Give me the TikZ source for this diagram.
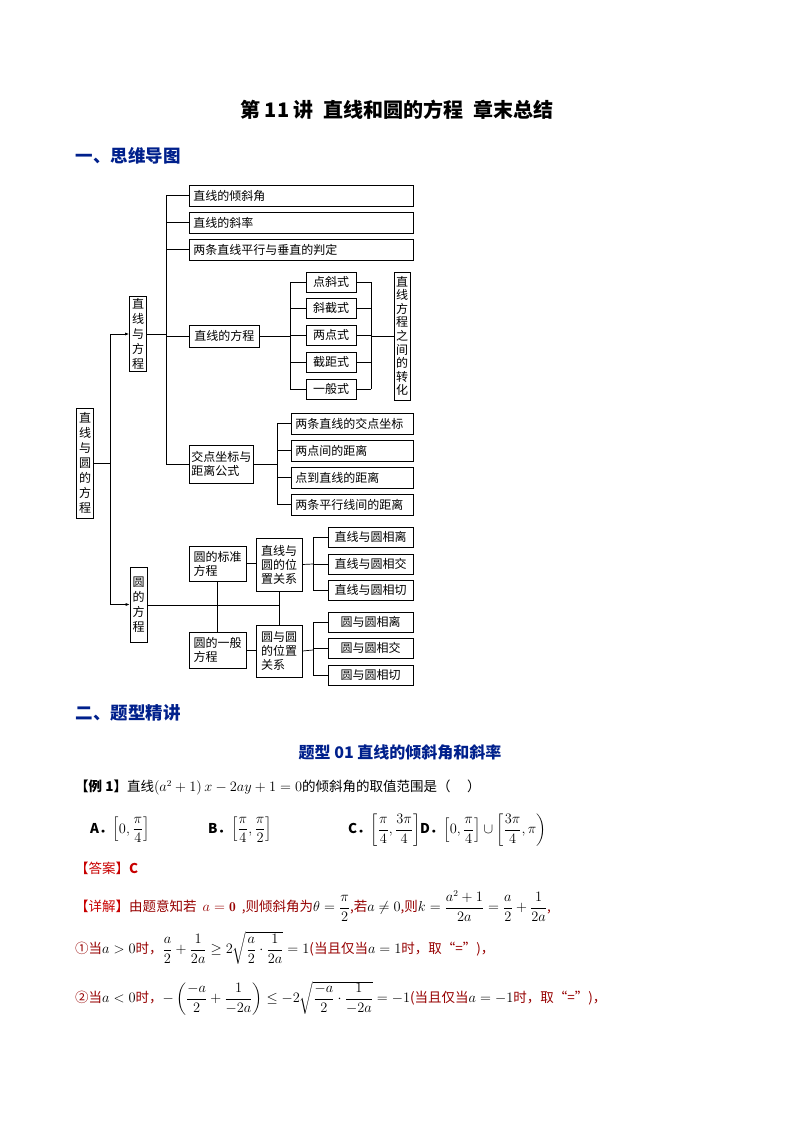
\documentclass[tikz,border=0pt]{standalone}
\usepackage{fontspec}
\usepackage{amsmath,amssymb}
\newfontfamily\cjk{Noto Sans CJK SC}
\usetikzlibrary{positioning,arrows.meta}
\definecolor{headblue}{RGB}{0,32,140}
\definecolor{ansred}{RGB}{200,0,0}
\definecolor{txtred}{RGB}{150,0,0}
\tikzset{
  box/.style={draw, line width=0.7pt, inner sep=2pt, font=\cjk\fontsize{12}{14}\selectfont},
  wbox/.style={box, anchor=west, minimum height=21pt, text width=#1, align=left, inner xsep=4pt},
  vbox/.style={box, align=center, text width=13pt, font=\cjk\fontsize{12}{15}\selectfont},
  link/.style={line width=0.7pt},
  arr/.style={link, -{Latex[length=4pt,width=3pt]}},
  body/.style={anchor=west, inner sep=0pt, font=\cjk\fontsize{13.5}{16}\selectfont}
}
\begin{document}
\begin{tikzpicture}[x=1pt,y=-1pt]
\useasboundingbox (0,0) rectangle (794,1123);

% headings
\node[font=\cjk\bfseries\fontsize{20}{24}\selectfont] (title) at (397,110) {第 11 讲\enspace 直线和圆的方程\enspace 章末总结};
\node[anchor=west, text=headblue, font=\cjk\bfseries\fontsize{17.5}{20}\selectfont] (h1) at (72,156) {一、思维导图};
\node[anchor=west, text=headblue, font=\cjk\bfseries\fontsize{17.5}{20}\selectfont] (h2) at (72,713) {二、题型精讲};
\node[text=headblue, font=\cjk\bfseries\fontsize{16}{19}\selectfont] (h3) at (400,752) {题型 01 直线的倾斜角和斜率};

% level 0 and 1
\node[vbox, minimum height=110pt] (root) at (85,463) {直\\线\\与\\圆\\的\\方\\程};
\node[vbox, minimum height=74pt] (zyf) at (138,334) {直\\线\\与\\方\\程};
\node[vbox, minimum height=75pt] (yfc) at (138.5,604.5) {圆\\的\\方\\程};
\coordinate (r1) at (110,463);
\draw[link] (root.east) -- (r1);
\draw[link] (r1) -- (r1|-zyf.west);
\draw[link] (r1) -- (r1|-yfc.west);
\draw[arr] (r1|-zyf.west) -- (zyf.west);
\draw[arr] (r1|-yfc.west) -- (yfc.west);

% line branch
\node[wbox=216pt] (q1) at (189,195.5) {直线的倾斜角};
\node[wbox=216pt] (q2) at (189,222.5) {直线的斜率};
\node[wbox=216pt] (q3) at (189,249.5) {两条直线平行与垂直的判定};
\node[box, anchor=west, minimum height=22pt, minimum width=70pt] (fc) at (189,336) {直线的方程};
\node[box, anchor=west, align=left, minimum height=38pt] (jd) at (189,464) {交点坐标与\\距离公式};
\coordinate (t1) at (166,336);
\draw[link] (zyf.east) -- (zyf.east-|t1);
\draw[link] (t1|-q1.west) -- (t1|-jd.west);
\foreach \n in {q1,q2,q3,fc,jd} \draw[link] (t1|-\n.west) -- (\n.west);

% forms of the line equation
\foreach \n/\t/\y in {f1/点斜式/282, f2/斜截式/308, f3/两点式/335, f4/截距式/362, f5/一般式/389}
  \node[box, minimum width=50pt, minimum height=20pt] (\n) at (331,\y) {\t};
\node[vbox, minimum height=128pt, text width=12pt, font=\cjk\fontsize{12}{13.6}\selectfont] (zh) at (402,336) {直\\线\\方\\程\\之\\间\\的\\转\\化};
\coordinate (t2) at (290,336);
\coordinate (t3) at (371,336);
\draw[link] (fc.east) -- (t2);
\draw[link] (t2|-f1.west) -- (t2|-f5.west);
\draw[link] (t3|-f1.east) -- (t3|-f5.east);
\draw[link] (t3) -- (zh.west);
\foreach \n in {f1,f2,f3,f4,f5} {
  \draw[link] (t2|-\n.west) -- (\n.west);
  \draw[link] (\n.east) -- (t3|-\n.east);
}

% distances
\foreach \n/\t/\y in {d1/两条直线的交点坐标/423.5, d2/两点间的距离/450.5, d3/点到直线的距离/477.5, d4/两条平行线间的距离/504.5}
  \node[wbox=114pt] (\n) at (291,\y) {\t};
\coordinate (t4) at (277,464);
\draw[link] (jd.east) -- (t4);
\draw[link] (t4|-d1.west) -- (t4|-d4.west);
\foreach \n in {d1,d2,d3,d4} \draw[link] (t4|-\n.west) -- (\n.west);

% circle branch
\node[box, align=left, minimum width=57pt, minimum height=35pt] (bz) at (217.5,563.5) {圆的标准\\方程};
\node[box, align=left, minimum width=57pt, minimum height=36pt] (yb) at (217.5,650) {圆的一般\\方程};
\node[box, align=left, minimum width=46pt, minimum height=53pt] (zy) at (279,564.5) {直线与\\圆的位\\置关系};
\node[box, align=left, minimum width=46pt, minimum height=52pt] (yy) at (279,651) {圆与圆\\的位置\\关系};
\coordinate (t5) at (279,605);
\draw[link] (yfc.east|-t5) -- (t5);
\draw[link] (bz.south) -- (yb.north);
\draw[link] (zy.south) -- (yy.north);
\draw[link] (bz.east) -- (zy.west|-bz.east);
\draw[link] (yb.east) -- (yy.west|-yb.east);

\foreach \n/\t/\y in {c1/直线与圆相离/537, c2/直线与圆相交/564, c3/直线与圆相切/590,
                      e1/圆与圆相离/622, e2/圆与圆相交/648, e3/圆与圆相切/675}
  \node[box, minimum width=85pt, minimum height=20pt] (\n) at (370.5,\y) {\t};
\coordinate (t6) at (313,564);
\coordinate (t7) at (313,650);
\draw[link] (zy.east) -- (t6);
\draw[link] (yy.east) -- (t7);
\draw[link] (t6|-c1.west) -- (t6|-c3.west);
\draw[link] (t7|-e1.west) -- (t7|-e3.west);
\foreach \n in {c1,c2,c3} \draw[link] (t6|-\n.west) -- (\n.west);
\foreach \n in {e1,e2,e3} \draw[link] (t7|-\n.west) -- (\n.west);

% example 1
\node[body] (ex) at (75,788) {\textbf{【例 1】}直线$\left(a^2+1\right)x-2ay+1=0$的倾斜角的取值范围是（\quad\ ）};
\node[body] (oa) at (90,830) {\textbf{A．}$\left[0,\dfrac{\pi}{4}\right]$};
\node[body] (ob) at (208,830) {\textbf{B．}$\left[\dfrac{\pi}{4},\dfrac{\pi}{2}\right]$};
\node[body] (oc) at (348,830) {\textbf{C．}$\left[\dfrac{\pi}{4},\dfrac{3\pi}{4}\right]$\textbf{D．}$\left[0,\dfrac{\pi}{4}\right]\cup\left[\dfrac{3\pi}{4},\pi\right)$};
\node[body, text=ansred] (ans) at (75,868) {【答案】\textbf{C}};
\node[body, text=txtred] (xj) at (75,906) {\textcolor{ansred}{【详解】}由题意知若\ \ $a=\mathbf{0}$\ \ ,则倾斜角为\textcolor{black}{$\theta=\dfrac{\pi}{2}$},若\textcolor{black}{$a\neq0$},则\textcolor{black}{$k=\dfrac{a^2+1}{2a}=\dfrac{a}{2}+\dfrac{1}{2a}$},};
\node[body, text=txtred] (s1) at (75,948) {①当\textcolor{black}{$a>0$}时，\textcolor{black}{$\dfrac{a}{2}+\dfrac{1}{2a}\geq2\sqrt{\dfrac{a}{2}\cdot\dfrac{1}{2a}}=1$}(当且仅当\textcolor{black}{$a=1$}时，取“=”)，};
\node[body, text=txtred] (s2) at (75,998) {②当\textcolor{black}{$a<0$}时，\textcolor{black}{$-\left(\dfrac{-a}{2}+\dfrac{1}{-2a}\right)\leq-2\sqrt{\dfrac{-a}{2}\cdot\dfrac{1}{-2a}}=-1$}(当且仅当\textcolor{black}{$a=-1$}时，取“=”)，};
\end{tikzpicture}
\end{document}
